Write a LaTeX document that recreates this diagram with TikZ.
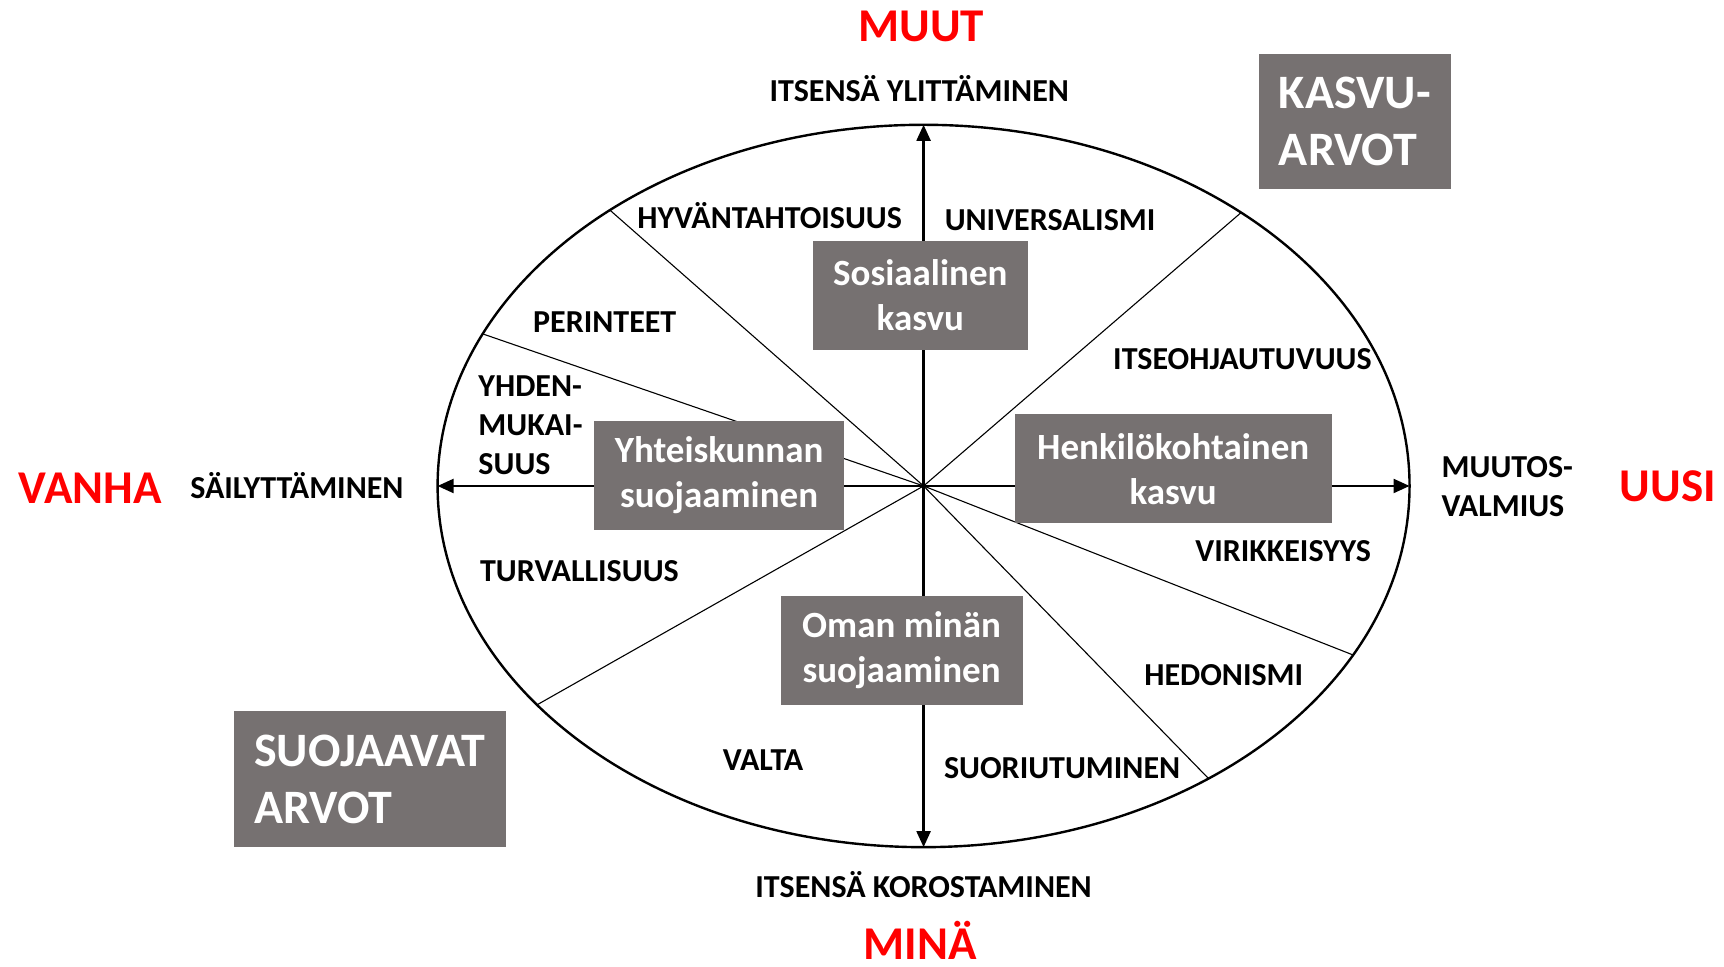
\documentclass[tikz,border=0pt]{standalone}
\usepackage{fontspec}
\setmainfont{Carlito}
\usetikzlibrary{calc,arrows.meta}
\definecolor{boxgray}{HTML}{767171}
\definecolor{polered}{HTML}{FF0000}
\tikzset{
  lbl/.style={font=\bfseries\fontsize{32}{39}\selectfont, inner sep=0pt, align=left, anchor=base},
  pole/.style={font=\bfseries\fontsize{47}{50}\selectfont, text=polered, inner sep=0pt, anchor=base},
  gbox/.style={fill=boxgray, text=white, font=\bfseries\fontsize{37}{45}\selectfont, align=center, inner sep=0pt, minimum height=108.9pt},
  bigbox/.style={fill=boxgray, text=white, font=\bfseries\fontsize{48}{57}\selectfont, align=left, inner xsep=20pt, inner ysep=0pt, minimum height=135.2pt},
  rim/.style={line width=2.4pt},
  axis/.style={line width=2.2pt, -{Triangle[length=16pt,width=14pt]}},
  sector/.style={line width=1.1pt}
}
\begin{document}
\begin{tikzpicture}[x=1.0995pt, y=-1.0995pt]
\useasboundingbox (0,0) rectangle (1568,879);
\coordinate (O) at (840,442);
\draw[rim] (O) ellipse [x radius=442, y radius=328.5];
% points on the ellipse
\coordinate (p1) at ($(O)+(-130.2:442 and 328.5)$);
\coordinate (p2) at ($(O)+(-155.1:442 and 328.5)$);
\coordinate (p3) at ($(O)+(-49.2:442 and 328.5)$);
\coordinate (p4) at ($(O)+(142.7:442 and 328.5)$);
\coordinate (p5) at ($(O)+(54.1:442 and 328.5)$);
\coordinate (p6) at ($(O)+(27.9:442 and 328.5)$);
\coordinate (top) at ($(O)+(-90:442 and 328.5)$);
\coordinate (bot) at ($(O)+(90:442 and 328.5)$);
\coordinate (lft) at ($(O)+(180:442 and 328.5)$);
\coordinate (rgt) at ($(O)+(0:442 and 328.5)$);
% sector lines
\foreach \p in {p1,p2,p3,p4,p5,p6} \draw[sector] (O) -- (\p);
% axes
\draw[axis] (O) -- (top);
\draw[axis] (O) -- (bot);
\draw[axis] (O) -- (lft);
\draw[axis] (O) -- (rgt);
% grey boxes
\node[gbox, minimum width=215.5pt] (sos) at (837,268.5) {Sosiaalinen\\kasvu};
\node[gbox, minimum width=250.7pt] (yht) at (654,432.5) {Yhteiskunnan\\suojaaminen};
\node[gbox, minimum width=316.7pt] (hen) at (1067,426.5) {Henkilökohtainen\\kasvu};
\node[gbox, minimum width=241.9pt] (oma) at (820,591.5) {Oman minän\\suojaaminen};
\node[bigbox, text width=152.4pt] (kas) at (1232.5,110.5) {KASVU-\\ARVOT};
\node[bigbox, text width=231.6pt] (suo) at (336.5,708.5) {SUOJAAVAT\\ARVOT};
% poles
\node[pole] (muut) at (838,37.8) {MUUT};
\node[pole] (vanha) at (82,457.8) {VANHA};
\node[pole] (uusi) at (1517,455.8) {UUSI};
\node[pole] (mina) at (837,872.5) {MINÄ};
% labels
\node[lbl] (l1) at (836,92.5) {ITSENSÄ YLITTÄMINEN};
\node[lbl] (l2) at (700,207.5) {HYVÄNTAHTOISUUS};
\node[lbl] (l3) at (955,209.5) {UNIVERSALISMI};
\node[lbl] (l4) at (550,302.5) {PERINTEET};
\node[lbl] (l5) at (1130,336.5) {ITSEOHJAUTUVUUS};
\node[lbl, anchor=west] (l6) at (435,386.5) {YHDEN-\\MUKAI-\\SUUS};
\node[lbl] (l7) at (270,453.5) {SÄILYTTÄMINEN};
\node[lbl, anchor=west] (l8) at (1311,442.5) {MUUTOS-\\VALMIUS};
\node[lbl] (l9) at (1167,510.5) {VIRIKKEISYYS};
\node[lbl] (l10) at (527,528.5) {TURVALLISUUS};
\node[lbl] (l11) at (1113,623.5) {HEDONISMI};
\node[lbl] (l12) at (694,700.5) {VALTA};
\node[lbl] (l13) at (966,708.5) {SUORIUTUMINEN};
\node[lbl] (l14) at (840,816.5) {ITSENSÄ KOROSTAMINEN};
\end{tikzpicture}
\end{document}
